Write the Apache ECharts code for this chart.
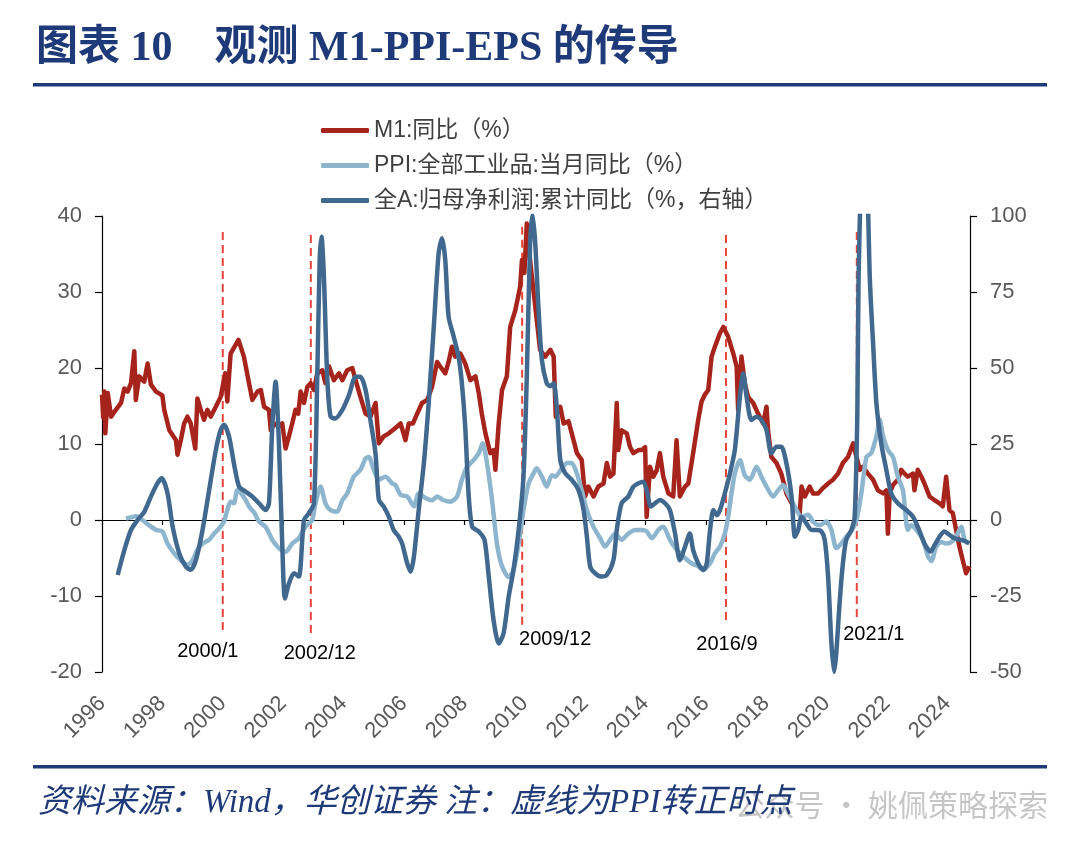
<!DOCTYPE html>
<html><head><meta charset="utf-8">
<script src="https://cdn.jsdelivr.net/npm/echarts@6/dist/echarts.min.js"></script>
<style>html,body{margin:0;padding:0;background:#fff}#c{width:1080px;height:848px}</style>
</head><body><div id="c"></div>
<script>
// ---- data (x = decimal year) ----
const m1Data = [[1996.0,16.5],[1996.04,13.5],[1996.08,16.9],[1996.11,11.4],[1996.19,16.7],[1996.3,13.6],[1996.46,14.5],[1996.63,15.4],[1996.74,17.3],[1996.85,16.9],[1996.96,18],[1997.07,22.2],[1997.12,15.8],[1997.23,18.9],[1997.4,18.2],[1997.51,20.6],[1997.62,17.8],[1997.79,16.9],[1998.0,16.4],[1998.06,14.5],[1998.23,11.8],[1998.45,10.5],[1998.5,8.6],[1998.61,10.5],[1998.72,12.7],[1998.83,13.6],[1998.94,12.7],[1999.09,9.4],[1999.16,16],[1999.27,14.5],[1999.38,13.2],[1999.49,14.5],[1999.6,13.6],[1999.77,14.9],[1999.93,16.2],[2000.08,19.3],[2000.15,15.6],[2000.26,21.9],[2000.52,23.7],[2000.7,21.5],[2000.87,18],[2000.98,15.8],[2001.15,16.9],[2001.26,17.1],[2001.37,14.9],[2001.53,14.5],[2001.59,11.8],[2001.7,12.7],[2001.86,12.3],[2001.97,12.7],[2002.08,9.4],[2002.19,11],[2002.3,12.7],[2002.41,14.5],[2002.5,14],[2002.58,16.9],[2002.69,15.4],[2002.8,17.5],[2002.91,18],[2003.02,17.1],[2003.13,19.3],[2003.3,19.7],[2003.4,18],[2003.52,20.2],[2003.68,18.4],[2003.85,19.3],[2003.96,18.4],[2004.12,19.7],[2004.29,20],[2004.4,18.4],[2004.56,16.2],[2004.73,14],[2004.89,13.6],[2005.06,15.4],[2005.17,10.1],[2005.33,11],[2005.5,11.4],[2005.72,12.1],[2005.89,12.7],[2006.05,10.5],[2006.16,12.7],[2006.3,12.7],[2006.44,14],[2006.6,15.4],[2006.77,15.8],[2006.93,17.5],[2007.1,20.8],[2007.2,20.2],[2007.37,19.3],[2007.48,20.8],[2007.59,22.8],[2007.7,21.5],[2007.87,21.9],[2008.03,20.6],[2008.2,18.4],[2008.37,18.9],[2008.48,16.7],[2008.58,14],[2008.7,11.4],[2008.86,8.8],[2008.97,9.2],[2009.03,6.6],[2009.14,12.7],[2009.25,17.1],[2009.41,18.9],[2009.52,25.4],[2009.69,27.6],[2009.85,30.7],[2009.91,34.2],[2009.99,32.5],[2010.07,39],[2010.13,36],[2010.24,32],[2010.35,28.1],[2010.51,22.4],[2010.68,21.5],[2010.85,22.4],[2010.96,21.5],[2011.03,13.6],[2011.18,14.9],[2011.29,12.7],[2011.45,13],[2011.56,11.4],[2011.73,8.8],[2011.89,7.9],[2012.0,3.1],[2012.11,4.4],[2012.28,3.1],[2012.44,4.4],[2012.61,4.8],[2012.72,7.5],[2012.83,5.7],[2012.94,6.1],[2013.05,15.4],[2013.1,9.2],[2013.21,11.8],[2013.38,11.4],[2013.49,9.6],[2013.6,8.8],[2013.77,9.2],[2013.88,9.2],[2013.99,9.6],[2014.04,0.4],[2014.15,7],[2014.26,5.7],[2014.37,6.5],[2014.48,8.8],[2014.59,5.7],[2014.76,3.5],[2014.92,3.1],[2015.03,10.5],[2015.14,3.1],[2015.31,4.4],[2015.42,4.8],[2015.58,8.8],[2015.75,13.2],[2015.86,15.6],[2015.97,16.5],[2016.08,17.1],[2016.19,21.5],[2016.3,22.8],[2016.47,24.6],[2016.58,25.4],[2016.74,24.1],[2016.91,21.9],[2017.02,20.2],[2017.07,14.5],[2017.18,21.5],[2017.29,18],[2017.4,16.2],[2017.57,15.4],[2017.73,14],[2017.9,12.7],[2018.01,14.9],[2018.06,11.8],[2018.17,8.3],[2018.34,7.5],[2018.5,6.1],[2018.67,3.5],[2018.84,2.2],[2019.0,1.3],[2019.11,0.9],[2019.17,4.4],[2019.28,3.1],[2019.44,4.4],[2019.55,3.5],[2019.72,3.5],[2019.88,4.2],[2020.05,4.8],[2020.21,5.3],[2020.38,6.1],[2020.54,7.5],[2020.71,8.3],[2020.88,10.1],[2020.99,8.3],[2021.1,6.6],[2021.2,7],[2021.37,6.1],[2021.54,5.3],[2021.7,3.9],[2021.87,3.5],[2021.98,3.9],[2022.03,-1.8],[2022.09,3.5],[2022.2,4.6],[2022.36,5.3],[2022.47,6.6],[2022.58,6.1],[2022.69,5.7],[2022.86,6.1],[2022.91,3.9],[2023.02,6.6],[2023.14,5.7],[2023.24,4.8],[2023.41,3.1],[2023.58,2.6],[2023.74,2.2],[2023.85,1.8],[2023.96,5.7],[2024.07,1.3],[2024.18,0.9],[2024.29,-1.3],[2024.4,-3.5],[2024.51,-5.3],[2024.62,-7],[2024.73,-6.1]];

const ppiData = [[1996.79,0.2],[1996.9,0.3],[1997.01,0.4],[1997.12,0.5],[1997.34,0],[1997.56,-0.7],[1997.79,-1.3],[1998.0,-1.5],[1998.17,-3.1],[1998.39,-4.4],[1998.61,-5.3],[1998.83,-5.9],[1999.0,-5.3],[1999.16,-3.9],[1999.33,-3.1],[1999.55,-2.6],[1999.71,-1.8],[1999.88,-1.1],[2000.04,-0.2],[2000.15,1.3],[2000.26,2.4],[2000.37,2.2],[2000.48,3.9],[2000.65,3.3],[2000.76,2.6],[2000.9,1.6],[2001.04,1.0],[2001.2,-0.2],[2001.42,-0.9],[2001.64,-2.6],[2001.86,-3.7],[2002.08,-4.2],[2002.3,-3.1],[2002.52,-2.4],[2002.74,-0.9],[2002.96,0],[2003.07,2.2],[2003.24,4.4],[2003.4,2.2],[2003.57,1.3],[2003.79,1.1],[2003.96,2.6],[2004.12,3.5],[2004.34,5.7],[2004.56,6.6],[2004.73,8.1],[2004.84,8.3],[2005.0,6.6],[2005.17,5.3],[2005.39,5.7],[2005.61,4.8],[2005.72,4.6],[2005.89,3.3],[2006.11,3.1],[2006.33,1.8],[2006.49,3.5],[2006.71,2.9],[2006.93,2.6],[2007.1,3.1],[2007.32,2.6],[2007.54,2.4],[2007.76,3.1],[2007.92,5.3],[2008.09,7],[2008.31,7.9],[2008.48,8.8],[2008.61,10.1],[2008.75,7.5],[2008.92,2.6],[2009.08,-3.1],[2009.25,-6.1],[2009.47,-7.5],[2009.63,-6.6],[2009.8,-3.1],[2009.96,1.3],[2010.13,4.8],[2010.29,6.1],[2010.4,6.8],[2010.57,5.7],[2010.73,4.4],[2010.9,5.9],[2011.01,5.7],[2011.23,6.8],[2011.4,7.5],[2011.56,7.5],[2011.73,6.1],[2011.89,3.9],[2012.06,1.3],[2012.28,-0.9],[2012.5,-2.4],[2012.66,-3.5],[2012.83,-2.6],[2012.99,-1.8],[2013.21,-2.6],[2013.43,-1.8],[2013.66,-1.3],[2013.88,-1.3],[2014.04,-1.5],[2014.21,-2.4],[2014.43,-1.3],[2014.59,-0.9],[2014.81,-2.6],[2015.03,-3.9],[2015.25,-4.8],[2015.53,-5.7],[2015.75,-6.1],[2015.92,-6.6],[2016.14,-5.7],[2016.3,-4.4],[2016.47,-3.5],[2016.63,-1.8],[2016.74,0.4],[2016.85,3.5],[2016.96,6.1],[2017.13,7.9],[2017.29,5.9],[2017.46,5.3],[2017.68,7],[2017.84,5.7],[2018.01,4.4],[2018.23,3.1],[2018.39,3.9],[2018.56,4.6],[2018.72,3.5],[2018.94,1.8],[2019.17,0.4],[2019.39,0.7],[2019.55,-0.2],[2019.77,-0.7],[2019.99,-0.2],[2020.16,-1.3],[2020.32,-3.7],[2020.49,-3.1],[2020.65,-2.2],[2020.82,-1.5],[2020.99,0],[2021.15,3.5],[2021.32,8.3],[2021.48,8.8],[2021.65,11],[2021.76,13.2],[2021.87,11],[2022.03,9.2],[2022.2,8.3],[2022.36,5.7],[2022.53,3.9],[2022.69,-1.3],[2022.8,-0.7],[2022.97,-1.3],[2023.19,-2.6],[2023.36,-4.8],[2023.47,-5.4],[2023.63,-3.5],[2023.8,-2.9],[2023.96,-3.1],[2024.13,-2.9],[2024.29,-2.2],[2024.46,-0.9],[2024.57,-2.6],[2024.68,-3.1]];

const epsData = [[1996.52,-18.1],[1996.74,-9.9],[1996.96,-3.3],[1997.18,0],[1997.4,2.7],[1997.62,7.7],[1997.84,12.1],[1997.98,13.7],[1998.17,8.8],[1998.34,-2.2],[1998.56,-11],[1998.78,-15.4],[1998.94,-16.4],[1999.11,-13.2],[1999.33,-3.3],[1999.55,9.9],[1999.77,23],[1999.93,29.6],[2000.04,31.3],[2000.21,27.4],[2000.37,18.6],[2000.54,11],[2000.76,9.3],[2000.98,7.7],[2001.2,5.5],[2001.42,3.3],[2001.53,5.5],[2001.64,30.7],[2001.75,45.5],[2001.86,25.2],[2001.97,-7.9],[2002.06,-25.8],[2002.19,-20.9],[2002.36,-17.5],[2002.52,-18.6],[2002.69,0],[2002.85,2.2],[2003.02,5.5],[2003.13,47.1],[2003.21,85.5],[2003.27,93.2],[2003.35,80],[2003.46,47.1],[2003.57,34],[2003.73,33.4],[2003.96,36.2],[2004.18,41.1],[2004.4,47.1],[2004.56,47.1],[2004.73,42.8],[2004.89,32.9],[2005.06,21.9],[2005.17,6.6],[2005.33,4.4],[2005.5,1.1],[2005.66,-3.3],[2005.83,-5.5],[2005.94,-7.7],[2006.11,-14.3],[2006.22,-17],[2006.33,-12.1],[2006.49,3.3],[2006.66,18.6],[2006.82,38.4],[2006.99,63.6],[2007.15,87.7],[2007.26,92.7],[2007.37,85.5],[2007.48,66.9],[2007.65,60.3],[2007.81,53.7],[2007.92,45],[2008.03,30.7],[2008.14,8.8],[2008.26,-2.2],[2008.48,-3.8],[2008.67,-6.6],[2008.81,-18.6],[2008.97,-32.9],[2009.14,-40.6],[2009.3,-37.3],[2009.47,-25.2],[2009.63,-16.4],[2009.8,-3.3],[2009.96,14.3],[2010.07,47.1],[2010.18,91],[2010.26,100.5],[2010.35,91],[2010.46,69.1],[2010.57,52.6],[2010.73,45],[2010.85,44],[2010.96,45],[2011.07,36.2],[2011.18,19.7],[2011.34,15.4],[2011.56,13.2],[2011.78,9.9],[2011.95,3.3],[2012.06,-5.5],[2012.17,-15.4],[2012.33,-17.5],[2012.55,-18.6],[2012.72,-18.1],[2012.94,-13.2],[2013.05,-3.3],[2013.21,5.5],[2013.43,7.7],[2013.6,11],[2013.77,12.1],[2013.93,12.6],[2014.04,9.9],[2014.18,4.4],[2014.32,5.5],[2014.48,6.6],[2014.65,5.5],[2014.81,3.3],[2014.98,-4.4],[2015.14,-13.2],[2015.31,-8.8],[2015.47,-4.4],[2015.58,-9.9],[2015.75,-14.3],[2015.92,-16.4],[2016.03,-14.3],[2016.14,-3.3],[2016.25,3.3],[2016.36,1.6],[2016.47,3.3],[2016.63,8.8],[2016.8,15.4],[2016.96,23],[2017.13,40.6],[2017.24,48.2],[2017.35,40.6],[2017.51,32.9],[2017.68,34],[2017.84,32.9],[2018.01,29.6],[2018.17,21.9],[2018.34,24.1],[2018.5,24.1],[2018.67,18.6],[2018.84,7.7],[2018.95,-5.5],[2019.06,-3.3],[2019.17,1.1],[2019.33,-1.1],[2019.5,-3.3],[2019.66,-3.3],[2019.83,-3.8],[2019.94,-6.6],[2020.05,-18.6],[2020.16,-40.6],[2020.25,-50],[2020.32,-43.9],[2020.43,-27.4],[2020.54,-14.3],[2020.65,-6.6],[2020.82,-3.3],[2020.93,1.1],[2021.02,36.2],[2021.06,80],[2021.25,147],[2021.43,80],[2021.54,58],[2021.65,38.4],[2021.81,25.2],[2021.98,16.4],[2022.14,8.8],[2022.36,5.5],[2022.64,3.3],[2022.86,1.1],[2023.02,-2.2],[2023.24,-7.7],[2023.44,-10.4],[2023.58,-8.2],[2023.74,-5.5],[2023.9,-3.8],[2024.07,-4.9],[2024.24,-6],[2024.46,-6.6],[2024.62,-7.1],[2024.73,-7.7]];

const seriesNames = ['M1:同比（%）', 'PPI:全部工业品:当月同比（%）', '全A:归母净利润:累计同比（%，右轴）'];
const eventLabels = ['2000/1', '2002/12', '2009/12', '2016/9', '2021/1'];
const eventTop = [37.9, 37.5, 38.6, 37.5, 37.9];
const eventBottom = [-14.7, -15.1, -14.1, -13.8, -13.2];
const eventLabelOffset = [[-15, 4], [9, 3], [33, -3], [1, 4], [17, -1]];
const xRange = {min: 1996, max: 2024.75, interval: 2};
const leftRange = {min: -20, max: 40, interval: 10};
const rightRange = {min: -50, max: 100, interval: 25};

const titleText = '图表 10　观测 M1-PPI-EPS 的传导';
const footText = '资料来源：Wind，华创证券 注：虚线为PPI转正时点';
const watermark = '公众号 · 姚佩策略探索';

// ---- chart ----
const NAVY = '#1F3A78';
const SANS = "'Liberation Sans','Noto Sans CJK SC',sans-serif";
function ymToDec(s) { const p = s.split('/'); return +p[0] + (+p[1] - 1) / 12; }

const eventSeries = eventLabels.map((lbl, i) => {
  const t = ymToDec(lbl);
  return {
    type: 'line', yAxisIndex: 0, xAxisIndex: 0, silent: true, z: 1,
    symbol: 'circle', symbolSize: 1, showSymbol: true,
    itemStyle: {color: 'rgba(0,0,0,0)'},
    lineStyle: {color: '#E8443A', width: 2, type: [8, 5]},
    data: [
      [t, eventTop[i]],
      {value: [t, eventBottom[i]], label: {show: true, position: 'bottom', formatter: lbl,
        offset: eventLabelOffset[i], color: '#000', fontSize: 20, fontFamily: SANS}}
    ]
  };
});

const chart = echarts.init(document.getElementById('c'), null, {renderer: 'canvas'});
chart.setOption({
  animation: false,
  backgroundColor: '#fff',
  grid: {left: 102, right: 110, top: 216, bottom: 176},
  legend: {
    orient: 'vertical', left: 316, top: 114, itemWidth: 48, itemHeight: 5, itemGap: 12,
    icon: 'roundRect', selectedMode: false,
    textStyle: {fontSize: 23, color: '#404040', fontFamily: SANS},
    data: seriesNames
  },
  xAxis: [
    {type: 'value', min: xRange.min, max: xRange.max, interval: xRange.interval,
     axisLine: {show: true, onZero: true, lineStyle: {color: '#000', width: 1.2}},
     axisTick: {show: true, length: 5, lineStyle: {color: '#000', width: 1.2}},
     axisLabel: {show: false}, splitLine: {show: false}},
    {type: 'value', position: 'bottom', min: xRange.min, max: xRange.max, interval: xRange.interval,
     axisLine: {show: false, onZero: false}, axisTick: {show: false}, splitLine: {show: false},
     axisLabel: {rotate: 45, margin: 28, fontSize: 22, color: '#595959', fontFamily: SANS,
       showMaxLabel: false, formatter: v => Number.isInteger(v) ? String(v) : ''}}
  ],
  yAxis: [
    {type: 'value', position: 'left', min: leftRange.min, max: leftRange.max, interval: leftRange.interval,
     axisLine: {show: true, lineStyle: {color: '#000', width: 1.2}},
     axisTick: {show: true, length: 7, lineStyle: {color: '#000', width: 1.2}},
     axisLabel: {margin: 20, fontSize: 22, color: '#595959', fontFamily: SANS},
     splitLine: {show: false}},
    {type: 'value', position: 'right', min: rightRange.min, max: rightRange.max, interval: rightRange.interval,
     axisLine: {show: true, lineStyle: {color: '#000', width: 1.2}},
     axisTick: {show: true, length: 7, lineStyle: {color: '#000', width: 1.2}},
     axisLabel: {margin: 20, fontSize: 22, color: '#595959', fontFamily: SANS},
     splitLine: {show: false}}
  ],
  series: eventSeries.concat([
    {name: seriesNames[0], type: 'line', yAxisIndex: 0, data: m1Data, symbol: 'none', z: 3,
     color: '#A6241B', lineStyle: {width: 4.5, color: '#A6241B', join: 'round'}},
    {name: seriesNames[1], type: 'line', yAxisIndex: 0, data: ppiData, symbol: 'none', z: 4, smooth: 0.25,
     color: '#8DB5CE', lineStyle: {width: 4.5, color: '#8DB5CE'}},
    {name: seriesNames[2], type: 'line', yAxisIndex: 1, data: epsData, symbol: 'none', z: 5, smooth: 0.25,
     color: '#41698F', lineStyle: {width: 4.5, color: '#41698F'}}
  ]),
  graphic: [
    {type: 'text', left: 36, top: 28, style: {text: titleText, font: "bold 42px 'Liberation Serif','Noto Sans CJK SC',serif", fill: NAVY}},
    {type: 'rect', shape: {x: 33, y: 83, width: 1014, height: 3.5}, style: {fill: NAVY}},
    {type: 'rect', shape: {x: 33, y: 765, width: 1014, height: 3.5}, style: {fill: NAVY}},
    {type: 'text', right: 32, top: 790, z: 1, style: {text: watermark, font: "30px 'Noto Sans CJK SC',sans-serif", fill: 'rgba(150,150,150,0.55)'}},
    {type: 'text', left: 38, top: 787, z: 2, style: {text: footText, font: "italic 33px 'Liberation Serif','Noto Sans CJK SC',serif", fill: NAVY}}
  ]
});
</script>
</body></html>
